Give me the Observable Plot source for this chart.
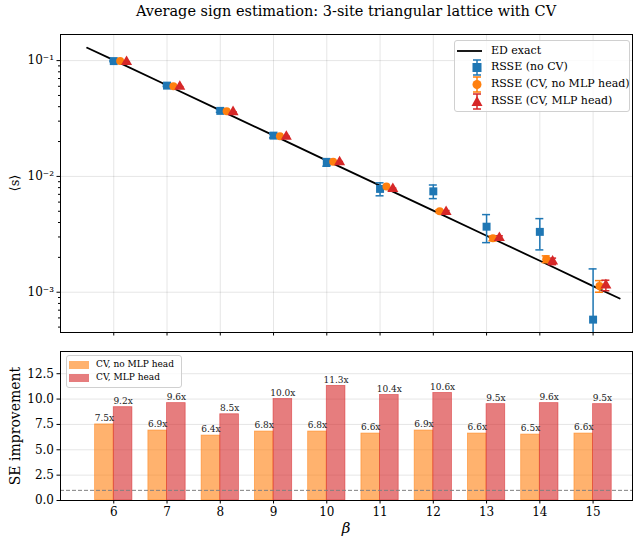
<!DOCTYPE html>
<html><head><meta charset="utf-8">
<script src="https://cdn.jsdelivr.net/npm/d3@7"></script>
<script src="https://cdn.jsdelivr.net/npm/@observablehq/plot@0.6"></script>
<style>
body{margin:0;background:#fff;font-family:"DejaVu Serif",serif;}
#wrap{position:relative;width:642px;height:542px;overflow:hidden;}
#wrap svg{position:absolute;left:0;}
.lbl{position:absolute;white-space:nowrap;color:#000;}
.leg{position:absolute;background:rgba(255,255,255,0.8);border:1px solid #d0d0d0;border-radius:3px;}
.leg .row{position:absolute;white-space:nowrap;}
</style></head><body><div id="wrap"></div>
<script>
// ---- data ----
const betas = [6, 7, 8, 9, 10, 11, 12, 13, 14, 15];
const edBeta = [5.5, 6, 7, 8, 9, 10, 11, 12, 13, 14, 15, 15.5];
const edValue = [0.129, 0.101, 0.0613, 0.0372, 0.0226, 0.0137, 0.00833, 0.00506, 0.00307, 0.00187, 0.00113, 0.000883];
const noCvValue = [0.0990, 0.0608, 0.0368, 0.0225, 0.01324, 0.0078, 0.00743, 0.00368, 0.00332, 0.00058];
const noCvErr = [0.0012, 0.0011, 0.0010, 0.0010, 0.0010, 0.0010, 0.0010, 0.0010, 0.0010, 0.00101];
const cvNoMlpValue = [0.0990, 0.0600, 0.0365, 0.0222, 0.0134, 0.00817, 0.0050, 0.00292, 0.00193, 0.00113];
const cvNoMlpErr = [0.00016, 0.00016, 0.00015, 0.00015, 0.00015, 0.00014, 0.00014, 0.00014, 0.00013, 0.00013];
const cvMlpValue = [0.0975, 0.0596, 0.0360, 0.0221, 0.0133, 0.0078, 0.00495, 0.00295, 0.00185, 0.00115];
const cvMlpErr = [0.00013, 0.00012, 0.00012, 0.00012, 0.00012, 0.00012, 0.00012, 0.00012, 0.00012, 0.00012];
const improveNoMlp = [7.5, 6.9, 6.4, 6.8, 6.8, 6.6, 6.9, 6.6, 6.5, 6.6];
const improveMlp = [9.2, 9.6, 8.5, 10.0, 11.3, 10.4, 10.6, 9.5, 9.6, 9.5];
const logTicks = [0.1, 0.01, 0.001];
const barTicks = [0, 2.5, 5, 7.5, 10, 12.5];

const BLUE = "#1f77b4", ORANGE = "#ff7f0e", RED = "#d62728";
const FONT = "DejaVu Serif";

// ---- tables ----
const ed = edBeta.map((b, i) => ({beta: b, value: edValue[i]}));
const series = [
  {name: "noCv", v: noCvValue, e: noCvErr, off: 0, color: BLUE, symbol: "square", r: 4.5},
  {name: "cvNoMlp", v: cvNoMlpValue, e: cvNoMlpErr, off: 0.12, color: ORANGE, symbol: "circle", r: 4},
  {name: "cvMlp", v: cvMlpValue, e: cvMlpErr, off: 0.24, color: RED, symbol: "triangle", r: 4.1}
];
const pts = series.flatMap(s => betas.map((b, i) => ({
  series: s.name, x: b + s.off, y: s.v[i],
  lo: Math.max(s.v[i] - s.e[i], 1e-6), hi: s.v[i] + s.e[i], color: s.color
})));
const bars = betas.map((b, i) => ({beta: b, noMlp: improveNoMlp[i], mlp: improveMlp[i]}));

const sup = {"-": "\u207b", "0": "\u2070", "1": "\u00b9", "2": "\u00b2", "3": "\u00b3", "4": "\u2074"};
const powFmt = d => "10" + String(Math.round(Math.log10(d))).split("").map(c => sup[c]).join("");
const minor = [];
for (const p of [1e-4, 1e-3, 1e-2, 1e-1]) for (let k = 2; k <= 9; k++) minor.push(k * p);

const xDomain = [5.0, 15.74];
const capHalf = 0.075;

const wrap = document.getElementById("wrap");

// ---- top panel ----
const topPlot = Plot.plot({
  width: 642, height: 340,
  marginLeft: 60, marginRight: 10, marginTop: 34, marginBottom: 8,
  style: {fontFamily: FONT, fontSize: "11px", background: "transparent", color: "#000"},
  x: {type: "linear", domain: xDomain, axis: null},
  y: {type: "log", domain: [4.49e-4, 0.168], axis: null},
  marks: [
    Plot.gridX(betas, {stroke: "#000", strokeOpacity: 0.1}),
    Plot.gridY(logTicks, {stroke: "#000", strokeOpacity: 0.1}),
    Plot.axisX({ticks: betas, tickFormat: () => "", tickSize: 3.5, label: null}),
    Plot.axisY({ticks: logTicks, tickFormat: powFmt, tickSize: 3.5, tickPadding: 3, label: null, fontSize: 12}),
    Plot.axisY({ticks: minor.filter(v => v > 4.49e-4 && v < 0.168), tickFormat: () => "", tickSize: 2, label: null}),
    Plot.line(ed, {x: "beta", y: "value", stroke: "#000", strokeWidth: 1.8}),
    Plot.ruleX(pts, {x: "x", y1: "lo", y2: "hi", stroke: "color", strokeWidth: 1.5, clip: true}),
    Plot.ruleY(pts, {y: "lo", x1: d => d.x - capHalf, x2: d => d.x + capHalf, stroke: "color", strokeWidth: 1.5, clip: true}),
    Plot.ruleY(pts, {y: "hi", x1: d => d.x - capHalf, x2: d => d.x + capHalf, stroke: "color", strokeWidth: 1.5, clip: true}),
    ...series.map(s => Plot.dot(pts.filter(p => p.series === s.name), {x: "x", y: "y", fill: s.color, symbol: s.symbol, r: s.r, stroke: "none"})),
    Plot.frame({stroke: "#000", strokeWidth: 1})
  ]
});
topPlot.style.top = "0px";
wrap.appendChild(topPlot);

// ---- bottom panel ----
const botPlot = Plot.plot({
  width: 642, height: 202,
  marginLeft: 60, marginRight: 10, marginTop: 11, marginBottom: 42,
  style: {fontFamily: FONT, fontSize: "11px", background: "transparent", color: "#000"},
  x: {type: "linear", domain: xDomain, axis: null},
  y: {domain: [0, 14.69], axis: null},
  marks: [
    Plot.gridY(barTicks, {stroke: "#000", strokeOpacity: 0.1}),
    Plot.rect(bars, {x1: d => d.beta - 0.35, x2: "beta", y1: 0, y2: "noMlp", fill: ORANGE, fillOpacity: 0.6, stroke: ORANGE, strokeOpacity: 0.6, strokeWidth: 0.8}),
    Plot.rect(bars, {x1: "beta", x2: d => d.beta + 0.35, y1: 0, y2: "mlp", fill: RED, fillOpacity: 0.6, stroke: RED, strokeOpacity: 0.6, strokeWidth: 0.8}),
    Plot.text(bars, {x: d => d.beta - 0.175, y: "noMlp", text: d => d.noMlp.toFixed(1) + "x", dy: -6, fontSize: 9, fill: "#222"}),
    Plot.text(bars, {x: d => d.beta + 0.175, y: "mlp", text: d => d.mlp.toFixed(1) + "x", dy: -6, fontSize: 9, fill: "#222"}),
    Plot.ruleY([1], {stroke: "#808080", strokeDasharray: "4,2", strokeWidth: 1}),
    Plot.axisX({ticks: betas, tickFormat: d => String(d), tickSize: 3.5, tickPadding: 3, label: null, fontSize: 12}),
    Plot.axisY({ticks: barTicks, tickFormat: d3.format(".1f"), tickSize: 3.5, tickPadding: 3, label: null, fontSize: 12}),
    Plot.frame({stroke: "#000", strokeWidth: 1})
  ]
});
botPlot.style.top = "340px";
wrap.appendChild(botPlot);

// ---- texts ----
function addLabel(text, css) {
  const d = document.createElement("div");
  d.className = "lbl";
  d.textContent = text;
  Object.assign(d.style, css);
  wrap.appendChild(d);
  return d;
}
addLabel("Average sign estimation: 3-site triangular lattice with CV",
  {left: "346px", top: "3px", fontSize: "14.5px", transform: "translateX(-50%)"});
addLabel("\u27e8s\u27e9", {left: "14px", top: "183px", fontSize: "13px", transform: "translate(-50%,-50%) rotate(-90deg)"});
addLabel("SE improvement", {left: "15px", top: "426px", fontSize: "14px", transform: "translate(-50%,-50%) rotate(-90deg)"});
addLabel("\u03b2", {left: "346px", top: "519px", fontSize: "15px", fontStyle: "italic", transform: "translateX(-50%)"});

// ---- legends ----
function legend(box, rows, fontSize) {
  const L = document.createElement("div");
  L.className = "leg";
  Object.assign(L.style, box);
  rows.forEach(r => {
    const row = document.createElement("div");
    row.className = "row";
    row.style.top = r.top + "px";
    row.style.left = "0px";
    row.style.fontSize = fontSize + "px";
    row.innerHTML = r.swatch + `<span style="position:absolute;left:${r.textLeft}px;top:-${fontSize*0.65}px">${r.text}</span>`;
    L.appendChild(row);
  });
  wrap.appendChild(L);
}
function errSwatch(color, shape) {
  let m = "";
  if (shape === "square") m = `<rect x="8.5" y="5" width="9" height="9" fill="${color}"/>`;
  if (shape === "circle") m = `<circle cx="13" cy="9.5" r="4.5" fill="${color}"/>`;
  if (shape === "triangle") m = `<path d="M13,4 L18.5,14 L7.5,14 Z" fill="${color}"/>`;
  return `<svg width="26" height="19" style="position:absolute;left:0;top:-9.5px" >
    <line x1="13" x2="13" y1="2" y2="17" stroke="${color}" stroke-width="1.5"/>
    <line x1="9" x2="17" y1="2" y2="2" stroke="${color}" stroke-width="1.5"/>
    <line x1="9" x2="17" y1="17" y2="17" stroke="${color}" stroke-width="1.5"/>${m}</svg>`;
}
legend({left: "454px", top: "40px", width: "174px", height: "70px"}, [
  {top: 10, swatch: `<svg width="30" height="4" style="position:absolute;left:2px;top:-2px"><line x1="0" x2="25" y1="2" y2="2" stroke="#000" stroke-width="1.8"/></svg>`, text: "ED exact", textLeft: 36},
  {top: 26.5, swatch: `<div style="position:absolute;left:9px">${errSwatch(BLUE, "square")}</div>`, text: "RSSE (no CV)", textLeft: 36},
  {top: 43.5, swatch: `<div style="position:absolute;left:9px">${errSwatch(ORANGE, "circle")}</div>`, text: "RSSE (CV, no MLP head)", textLeft: 36},
  {top: 60.5, swatch: `<div style="position:absolute;left:9px">${errSwatch(RED, "triangle")}</div>`, text: "RSSE (CV, MLP head)", textLeft: 36}
], 11);
legend({left: "66px", top: "355px", width: "114px", height: "31px"}, [
  {top: 8.5, swatch: `<div style="position:absolute;left:2px;top:-4px;width:20px;height:8px;background:${ORANGE};opacity:0.6"></div>`, text: "CV, no MLP head", textLeft: 29},
  {top: 21.5, swatch: `<div style="position:absolute;left:2px;top:-4px;width:20px;height:8px;background:${RED};opacity:0.6"></div>`, text: "CV, MLP head", textLeft: 29}
], 9);
</script>
</body></html>
